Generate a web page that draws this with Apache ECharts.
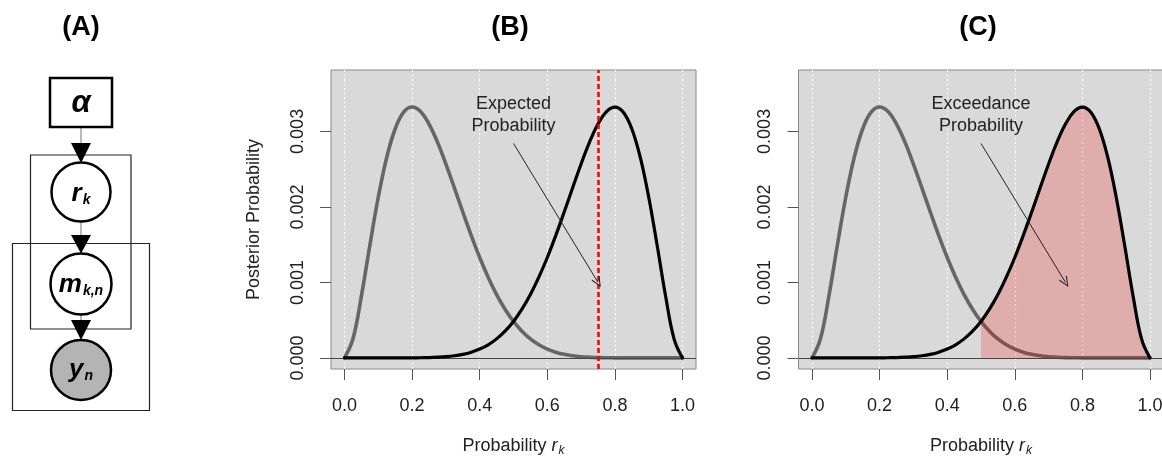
<!DOCTYPE html>
<html>
<head>
<meta charset="utf-8">
<script src="https://cdn.jsdelivr.net/npm/echarts@6/dist/echarts.min.js"></script>
<style>
html,body{margin:0;padding:0;background:#fff;}
#chart{width:1162px;height:457px;}
</style>
</head>
<body>
<div id="chart"></div>
<script>
// ---- data ----
const xs = [0,0.025,0.05,0.075,0.1,0.125,0.15,0.175,0.2,0.225,0.25,0.275,0.3,0.325,0.35,0.375,0.4,0.425,0.45,0.475,0.5,0.525,0.55,0.575,0.6,0.625,0.65,0.675,0.7,0.725,0.75,0.775,0.8,0.825,0.85,0.875,0.9,0.925,0.95,0.975,1];
const grayVals = [0,0.000253,0.000821,0.001492,0.002131,0.002658,0.003035,0.003254,0.003322,0.003262,0.003097,0.002858,0.002568,0.002253,0.001932,0.001621,0.001330,0.001069,0.000839,0.000645,0.000483,0.000354,0.000252,0.000174,0.000117,0.000076,0.000047,0.000028,0.000016,0.000009,0.000004,0.000002,0.000001,0,0,0,0,0,0,0,0];
const blackVals = [0,0,0,0,0,0,0,0,0.000001,0.000002,0.000004,0.000009,0.000016,0.000028,0.000047,0.000076,0.000117,0.000174,0.000252,0.000354,0.000483,0.000645,0.000839,0.001069,0.001330,0.001621,0.001932,0.002253,0.002568,0.002858,0.003097,0.003262,0.003322,0.003254,0.003035,0.002658,0.002131,0.001492,0.000821,0.000253,0];
const xTicks = [0,0.2,0.4,0.6,0.8,1.0];
const yTicks = [0,0.001,0.002,0.003];
const expectedValue = 0.75;
const exceedFrom = 0.5;
const arrowFrom = [0.5, 0.00284];
const arrowTo = [0.75, 0.001];
const notePos = [0.5, 0.00322];
const noteB = 'Expected\nProbability';
const noteC = 'Exceedance\nProbability';
const panelTitles = ['(A)','(B)','(C)'];
const xName = 'Probability {i|r}{s|k}';
const yName = 'Posterior Probability';

// ---- chart ----
const FONT = '"Liberation Sans", Arial, Helvetica, sans-serif';
const chart = echarts.init(document.getElementById('chart'), null, {renderer:'canvas'});

const grayData = xs.map((x,i)=>[x, grayVals[i]]);
const blackData = xs.map((x,i)=>[x, blackVals[i]]);
const pinkData = blackData.filter(p => p[0] >= exceedFrom);

function xAxisFor(g){
  return {
    type:'value', gridIndex:g, min:-0.04, max:1.04, position:'bottom',
    axisLine:{show:false, onZero:false},
    axisTick:{show:true, inside:false, length:11, customValues:xTicks, lineStyle:{color:'#555', width:1}},
    axisLabel:{show:true, customValues:xTicks, margin:28, fontSize:18, color:'#222', fontFamily:FONT,
      formatter:v=>v.toFixed(1)},
    splitLine:{show:false},
    name:xName, nameLocation:'middle', nameGap:66,
    nameTextStyle:{fontSize:18, color:'#222', fontFamily:FONT, lineHeight:22,
      rich:{i:{fontSize:18, fontStyle:'italic', fontFamily:FONT, color:'#222', lineHeight:22},
            s:{fontSize:12, fontStyle:'italic', fontFamily:FONT, color:'#222', lineHeight:22, padding:[9,0,0,1]}}}
  };
}
function yAxisFor(g, withName){
  return {
    type:'value', gridIndex:g, min:-0.000147, max:0.003813, position:'left',
    axisLine:{show:false, onZero:false},
    axisTick:{show:true, inside:false, length:11, customValues:yTicks, lineStyle:{color:'#555', width:1}},
    axisLabel:{show:true, customValues:yTicks, rotate:90, margin:24, fontSize:18, color:'#222', fontFamily:FONT,
      formatter:v=>v.toFixed(3)},
    splitLine:{show:false},
    name: withName ? yName : '', nameLocation:'middle', nameGap:68,
    nameTextStyle:{fontSize:18, color:'#222', fontFamily:FONT}
  };
}
const gridLineData = xTicks.map(v=>({xAxis:v})).concat(yTicks.slice(1).map(v=>({yAxis:v})));
const arrowSymbol = 'path://M5,0 L10,9.2 L9.1,10 L5,2.2 L0.9,10 L0,9.2 Z';

function panelSeries(g, isC){
  const out = [];
  out.push({
    type:'line', xAxisIndex:g, yAxisIndex:g, data:grayData, z:2,
    smooth:0.4, showSymbol:false, silent:true,
    lineStyle:{color:'#666666', width:3.6, cap:'round', join:'round'},
    markLine:{silent:true, z:1, symbol:'none', animation:false, label:{show:false},
      lineStyle:{color:'#ffffff', width:1.2, type:[2,2.5], opacity:0.9}, data:gridLineData}
  });
  if (isC){
    out.push({
      type:'line', xAxisIndex:g, yAxisIndex:g, data:pinkData, z:3,
      smooth:0.4, showSymbol:false, silent:true,
      lineStyle:{width:0, opacity:0},
      areaStyle:{color:'rgba(255,0,0,0.2)', origin:0, opacity:1}
    });
  }
  const ml = [{yAxis:0, lineStyle:{color:'#444', width:1, type:'solid'}}];
  out.push({
    type:'line', xAxisIndex:g, yAxisIndex:g, data:blackData, z:5,
    smooth:0.4, showSymbol:false, silent:true,
    lineStyle:{color:'#000000', width:3.2, cap:'round', join:'round'},
    markLine:{silent:true, z:4, symbol:'none', animation:false, label:{show:false}, data:ml}
  });
  // annotations
  const ann = [];
  if (!isC){
    ann.push({xAxis:expectedValue, lineStyle:{color:'#ff0000', width:2.6, type:[5,3]}});
  }
  out.push({
    type:'line', xAxisIndex:g, yAxisIndex:g, data:[], z:6, silent:true,
    markLine:{silent:true, z:6, animation:false, label:{show:false},
      symbol:'none',
      data: ann.concat([[{coord:arrowFrom, symbol:'none'},
                         {coord:arrowTo, symbol:arrowSymbol, symbolSize:[9,11],
                          lineStyle:{color:'#222', width:1, type:'solid'}}]]),
      lineStyle:{color:'#222', width:1, type:'solid'}},
    markPoint:{silent:true, z:6, animation:false,
      symbol:'rect', symbolSize:1, itemStyle:{color:'rgba(0,0,0,0)'},
      label:{show:true, position:'inside', formatter: isC?noteC:noteB, fontSize:18, lineHeight:22,
        color:'#222', fontFamily:FONT, align:'center'},
      data:[{coord:notePos}]}
  });
  return out;
}

// Panel A : plate diagram
const nodeFont = FONT;
function nodeText(cx, cy, main, sub, mainSize, subSize){
  return {type:'text', z:20, style:{
    text: sub ? '{a|'+main+'}{b|'+sub+'}' : '{a|'+main+'}',
    x:cx, y:cy, align:'center', verticalAlign:'middle',
    rich:{a:{fontSize:mainSize, fontWeight:'bold', fontStyle:'italic', fontFamily:nodeFont, fill:'#000', lineHeight:30},
          b:{fontSize:subSize, fontWeight:'bold', fontStyle:'italic', fontFamily:nodeFont, fill:'#000', lineHeight:30, padding:[12,0,0,1]}}
  }};
}
function tri(topY, botY){
  return {type:'polygon', z:15, shape:{points:[[71,topY],[91,topY],[81,botY]]}, style:{fill:'#000'}};
}
const graphics = [
  {type:'rect', z:10, shape:{x:30.5, y:155, width:100.5, height:174}, style:{fill:'none', stroke:'#222', lineWidth:1.2}},
  {type:'rect', z:10, shape:{x:12.5, y:243.5, width:137, height:167}, style:{fill:'none', stroke:'#222', lineWidth:1.2}},
  {type:'line', z:11, shape:{x1:81, y1:127, x2:81, y2:145}, style:{stroke:'#777', lineWidth:1}},
  {type:'line', z:11, shape:{x1:81, y1:222, x2:81, y2:237}, style:{stroke:'#777', lineWidth:1}},
  {type:'line', z:11, shape:{x1:81, y1:315, x2:81, y2:322}, style:{stroke:'#777', lineWidth:1}},
  {type:'rect', z:12, shape:{x:50, y:78, width:62, height:49}, style:{fill:'#fff', stroke:'#000', lineWidth:2.5}},
  {type:'circle', z:12, shape:{cx:81, cy:192, r:29.5}, style:{fill:'#fff', stroke:'#000', lineWidth:2.5}},
  {type:'circle', z:12, shape:{cx:81, cy:284, r:30.5}, style:{fill:'#fff', stroke:'#000', lineWidth:2.5}},
  {type:'circle', z:12, shape:{cx:81, cy:370, r:30}, style:{fill:'#b4b4b4', stroke:'#000', lineWidth:2.5}},
  tri(143,163), tri(235,253.5), tri(320,340),
  nodeText(81, 103, 'α', '', 31, 0),
  nodeText(81, 194, 'r', 'k', 26, 14),
  nodeText(81, 285, 'm', 'k,n', 26, 14),
  nodeText(81, 370, 'y', 'n', 26, 14),
  {type:'text', z:20, style:{text:panelTitles[0], x:81, y:28, align:'center', verticalAlign:'middle',
    fontSize:27, fontWeight:'bold', fontFamily:FONT, fill:'#000'}},
  {type:'text', z:20, style:{text:panelTitles[1], x:510, y:28, align:'center', verticalAlign:'middle',
    fontSize:27, fontWeight:'bold', fontFamily:FONT, fill:'#000'}},
  {type:'text', z:20, style:{text:panelTitles[2], x:978, y:28, align:'center', verticalAlign:'middle',
    fontSize:27, fontWeight:'bold', fontFamily:FONT, fill:'#000'}}
];

const option = {
  animation:false,
  backgroundColor:'#ffffff',
  textStyle:{fontFamily:FONT},
  grid:[
    {left:331, top:70, width:365, height:299, show:true, backgroundColor:'#d9d9d9', borderColor:'#8a8a8a', borderWidth:1, containLabel:false, outerBoundsMode:'none'},
    {left:798.5, top:70, width:365, height:299, show:true, backgroundColor:'#d9d9d9', borderColor:'#8a8a8a', borderWidth:1, containLabel:false, outerBoundsMode:'none'}
  ],
  xAxis:[xAxisFor(0), xAxisFor(1)],
  yAxis:[yAxisFor(0,true), yAxisFor(1,false)],
  series: panelSeries(0,false).concat(panelSeries(1,true)),
  graphic: graphics
};
chart.setOption(option);
</script>
</body>
</html>
